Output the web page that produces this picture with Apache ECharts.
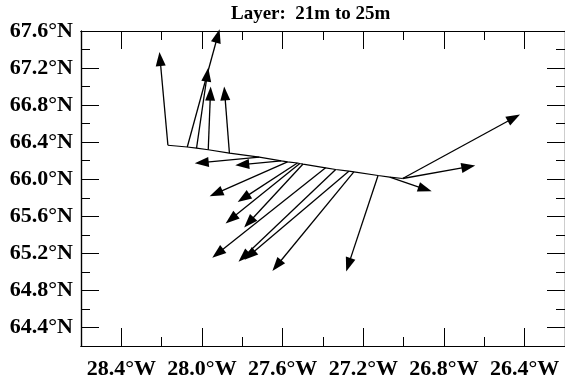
<!DOCTYPE html>
<html>
<head>
<meta charset="utf-8">
<script src="https://cdn.jsdelivr.net/npm/echarts@6/dist/echarts.min.js"></script>
<style>
  html, body { margin: 0; padding: 0; background: #fff; }
  #chart { width: 565px; height: 383px; }
</style>
</head>
<body>
<div id="chart"></div>
<script>
// Station positions along the ship track (degrees, west longitude negative)
const stationLon = [-28.169, -28.073, -28.027, -27.969, -27.864, -27.716, -27.607, -27.576, -27.527,
                    -27.515, -27.499, -27.387, -27.337, -27.272, -27.247, -27.127, -27.069, -27.005, -27.005];
const stationLat = [66.367, 66.348, 66.335, 66.318, 66.281, 66.238, 66.198, 66.188, 66.175,
                    66.170, 66.164, 66.123, 66.105, 66.087, 66.080, 66.040, 66.022, 66.008, 66.008];

// Layer-mean current at each station, cm/s (eastward, northward)
const currentU = [-2.1, 8.0, 2.9, 0.6, -1.3, -16.0, -11.4, -19.3, -14.8,
                  -18.4, -14.6, -28.1, -24.1, -25.9, -20.2, -7.9, 10.4, 18.0, 29.1];
const currentV = [23.0, 29.1, 19.9, 15.6, 16.5, -1.5, -1.1, -8.5, -9.6,
                  -14.8, -15.7, -22.2, -22.8, -21.9, -24.5, -23.7, -3.5, 3.2, 15.8];

// Axis ticks (labelled and unlabelled)
const lonTicks = [-28.4, -28.0, -27.6, -27.2, -26.8, -26.4];
const lonLabels = ['28.4°W', '28.0°W', '27.6°W', '27.2°W', '26.8°W', '26.4°W'];
const lonMinorTicks = [-28.2, -27.8, -27.4, -27.0, -26.6];
const latTicks = [64.4, 64.8, 65.2, 65.6, 66.0, 66.4, 66.8, 67.2, 67.6];
const latLabels = ['64.4°N', '64.8°N', '65.2°N', '65.6°N', '66.0°N', '66.4°N', '66.8°N', '67.2°N', '67.6°N'];
const latMinorTicks = [64.6, 65.0, 65.4, 65.8, 66.2, 66.6, 67.0, 67.4];

const LON_MIN = -28.6, LON_MAX = -26.2;
const LAT_MIN = 64.2, LAT_MAX = 67.6;

// Arrow length: degrees of displacement per cm/s
const DEG_LON_PER_CMS = 0.02;
const DEG_LAT_PER_CMS = 0.0437;

const FONT = 'Liberation Serif, Times New Roman, serif';

function labelFor(ticks, labels) {
  return function (v) {
    for (let i = 0; i < ticks.length; i++) {
      if (Math.abs(ticks[i] - v) < 1e-6) return labels[i];
    }
    return '';
  };
}

function makeAxis(kind, position, major, withLabels) {
  const isX = kind === 'x';
  const ticks = isX ? (major ? lonTicks : lonMinorTicks) : (major ? latTicks : latMinorTicks);
  return {
    type: 'value',
    position: position,
    min: isX ? LON_MIN : LAT_MIN,
    max: isX ? LON_MAX : LAT_MAX,
    axisLine: { show: true, onZero: false, lineStyle: { color: '#000', width: 1.2 } },
    axisTick: {
      show: true, inside: true, length: major ? 18 : 9,
      customValues: ticks,
      lineStyle: { color: '#000', width: 1 }
    },
    axisLabel: withLabels ? {
      show: true,
      customValues: ticks,
      formatter: isX ? labelFor(lonTicks, lonLabels) : labelFor(latTicks, latLabels),
      color: '#000',
      fontFamily: FONT,
      fontWeight: 'bold',
      fontSize: 22,
      margin: isX ? 12 : 8
    } : { show: false },
    splitLine: { show: false },
    minorTick: { show: false },
    minorSplitLine: { show: false }
  };
}

const vectorData = stationLon.map((lon, i) => [lon, stationLat[i], currentU[i], currentV[i]]);
const trackData = stationLon.map((lon, i) => [lon, stationLat[i]]);

const chart = echarts.init(document.getElementById('chart'), null, { renderer: 'canvas' });

chart.setOption({
  animation: false,
  backgroundColor: '#fff',
  title: {
    text: 'Layer:  21m to 25m',
    left: 231,
    top: 5,
    padding: 0,
    textStyle: { fontFamily: FONT, fontWeight: 'bold', fontSize: 19, color: '#000' }
  },
  grid: { left: 81, width: 486, top: 31, height: 315, containLabel: false },
  xAxis: [
    makeAxis('x', 'bottom', true, true),
    makeAxis('x', 'bottom', false, false),
    makeAxis('x', 'top', true, false),
    makeAxis('x', 'top', false, false)
  ],
  yAxis: [
    makeAxis('y', 'left', true, true),
    makeAxis('y', 'left', false, false),
    makeAxis('y', 'right', true, false),
    makeAxis('y', 'right', false, false)
  ],
  series: [
    {
      // ship track joining the stations
      type: 'line',
      xAxisIndex: 0,
      yAxisIndex: 0,
      data: trackData,
      symbol: 'none',
      lineStyle: { color: '#000', width: 1.2 },
      z: 2
    },
    {
      // current vectors drawn from each station
      type: 'custom',
      xAxisIndex: 0,
      yAxisIndex: 0,
      clip: false,
      data: vectorData,
      encode: { x: 0, y: 1 },
      z: 3,
      renderItem: function (params, api) {
        const lon = api.value(0), lat = api.value(1);
        const u = api.value(2), v = api.value(3);
        const p0 = api.coord([lon, lat]);
        const p1 = api.coord([lon + u * DEG_LON_PER_CMS, lat + v * DEG_LAT_PER_CMS]);
        const dx = p1[0] - p0[0], dy = p1[1] - p0[1];
        const len = Math.hypot(dx, dy) || 1;
        const ux = dx / len, uy = dy / len;
        const headLen = 14, headHalf = 5;
        const bx = p1[0] - ux * headLen, by = p1[1] - uy * headLen;
        return {
          type: 'group',
          children: [
            {
              type: 'line',
              shape: { x1: p0[0], y1: p0[1], x2: bx + ux * 2, y2: by + uy * 2 },
              style: { stroke: '#000', lineWidth: 1.3 }
            },
            {
              type: 'polygon',
              shape: { points: [[p1[0], p1[1]], [bx - uy * headHalf, by + ux * headHalf], [bx + uy * headHalf, by - ux * headHalf]] },
              style: { fill: '#000' }
            }
          ]
        };
      }
    }
  ]
});
</script>
</body>
</html>
